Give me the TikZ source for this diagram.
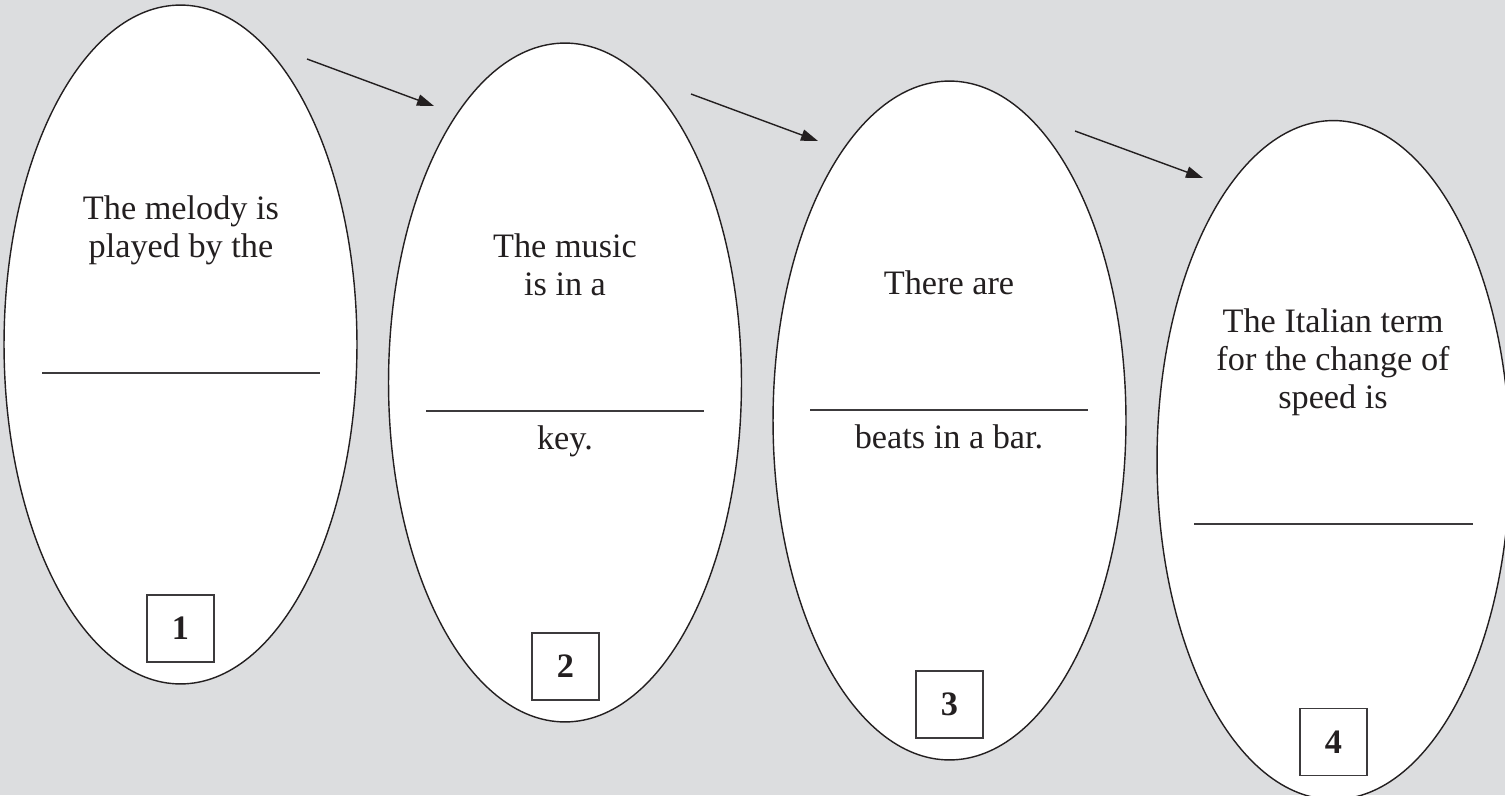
\documentclass[tikz,border=0pt]{standalone}
\usepackage{fontspec}
\setmainfont{Liberation Serif}
\usetikzlibrary{shapes.geometric,arrows.meta}
\definecolor{bg}{RGB}{220,221,223}
\definecolor{ink}{RGB}{35,31,32}
\definecolor{boxink}{RGB}{60,58,60}
\begin{document}
\begin{tikzpicture}[x=0.02cm,y=-0.02cm,
  oval/.style={ellipse,draw=ink,fill=white,line width=0.8pt,minimum width=7.06cm,minimum height=13.58cm,inner sep=0pt},
  txt/.style={anchor=base,font=\fontsize{19.5}{21.6}\selectfont,text=ink,inner sep=0pt},
  numbox/.style={draw=boxink,line width=0.8pt,minimum size=1.34cm,inner sep=0pt,font=\fontsize{19.5}{21.6}\selectfont\bfseries,text=ink},
  blank/.style={draw=boxink,line width=0.9pt},
  arr/.style={draw=ink,line width=0.8pt,-{Triangle[length=0.34cm,width=0.23cm]}}]
\fill[bg] (0,0) rectangle (1505,795);
\useasboundingbox (0,0) rectangle (1505,795);

% ovals
\node[oval] (e1) at (180.5,344.5) {};
\node[oval] (e2) at (565,382.5) {};
\node[oval] (e3) at (949.5,420.5) {};
\node[oval] (e4) at (1333.5,460) {};

% arrows
\coordinate (a1s) at (307,59);  \coordinate (a1e) at (434,106);
\coordinate (a2s) at (691,94);  \coordinate (a2e) at (818,141);
\coordinate (a3s) at (1075,131); \coordinate (a3e) at (1203,178);
\draw[arr] (a1s) -- (a1e);
\draw[arr] (a2s) -- (a2e);
\draw[arr] (a3s) -- (a3e);

% oval 1
\node[txt] (t1a) at (181,219) {The melody is};
\node[txt] (t1b) at (181,257) {played by the};
\draw[blank] (42,373) -- (320,373);
\node[numbox] (b1) at (180.5,628.5) {1};

% oval 2
\node[txt] (t2a) at (565,257) {The music};
\node[txt] (t2b) at (565,295) {is in a};
\draw[blank] (426,411) -- (704,411);
\node[txt] (t2c) at (565,449) {key.};
\node[numbox] (b2) at (565.5,666.5) {2};

% oval 3
\node[txt] (t3a) at (949,294) {There are};
\draw[blank] (810,410) -- (1088,410);
\node[txt] (t3b) at (949,448) {beats in a bar.};
\node[numbox] (b3) at (949.5,704.5) {3};

% oval 4
\node[txt] (t4a) at (1333,332) {The Italian term};
\node[txt] (t4b) at (1333,370) {for the change of};
\node[txt] (t4c) at (1333,408) {speed is};
\draw[blank] (1194,524) -- (1473,524);
\node[numbox] (b4) at (1333.5,742) {4};
\end{tikzpicture}
\end{document}
